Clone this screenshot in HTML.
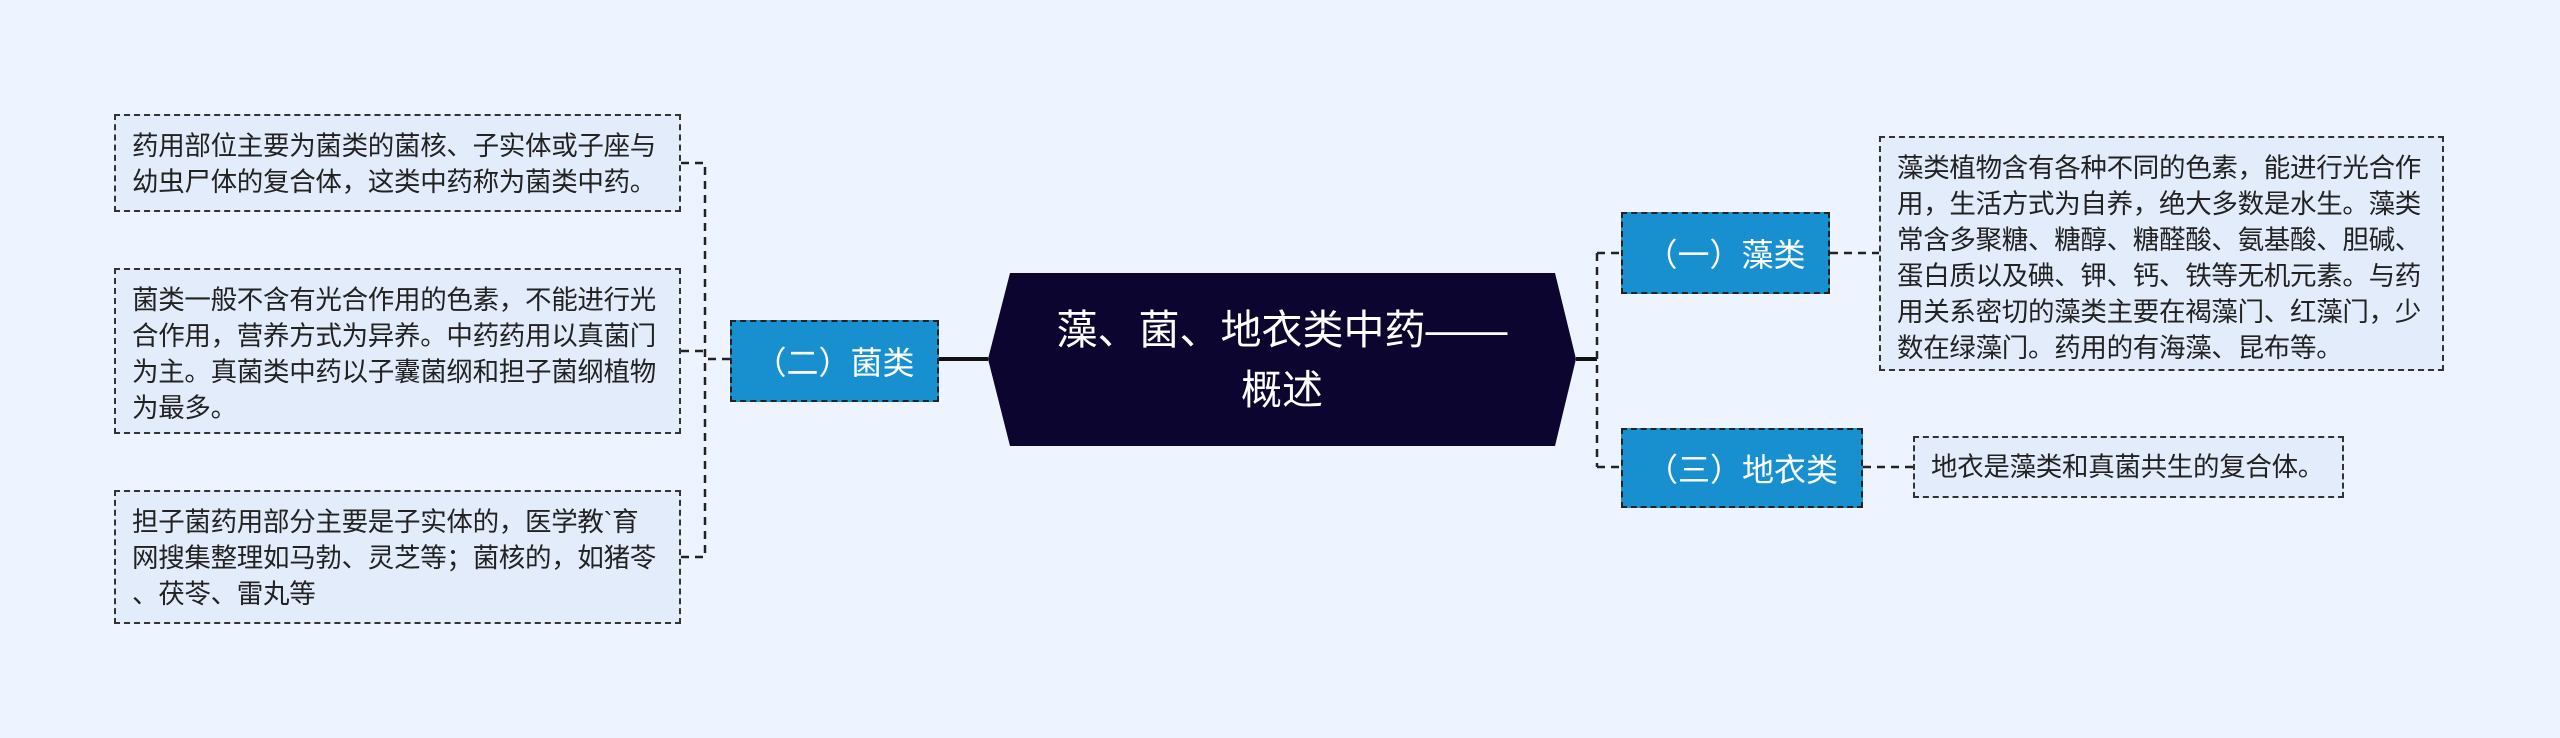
<!DOCTYPE html>
<html><head><meta charset="utf-8"><style>
body{margin:0;width:2560px;height:738px;background:#eef4ff;position:relative;overflow:hidden;font-family:"Liberation Sans","Noto Sans CJK SC",sans-serif;}
.leaf{position:absolute;box-sizing:border-box;border:2px dashed #333;background:#e3ecfb;color:#222;font-size:26.5px;line-height:36px;padding:12px 14px 10px 16px;letter-spacing:-0.3px;}
.sub{position:absolute;box-sizing:border-box;border:2px dashed #222;background:#1890d0;color:#fff;font-size:32px;display:flex;align-items:center;justify-content:center;}
svg{position:absolute;left:0;top:0}
.c{position:absolute;left:988px;top:273px;width:588px;height:173px;display:flex;align-items:center;justify-content:center;text-align:center;color:#fff;font-size:41px;line-height:60px;}
</style></head><body>
<svg width="2560" height="738">
<polygon points="1010,273 1555,273 1576,359 1555,446 1010,446 988,359" fill="#0b0530"/>
<g stroke="#111" stroke-width="4" fill="none">
<line x1="939" y1="359" x2="988" y2="359"/>
<line x1="1576" y1="359" x2="1597" y2="359"/>
</g>
<g stroke="#222" stroke-width="2.5" fill="none" stroke-dasharray="8,6">
<path d="M730 359 H705 M681 163 H705 V557 H681 M681 351 H705"/>
<path d="M1597 253 V467 M1597 253 H1621 M1597 467 H1621"/>
<path d="M1830 253 H1879 M1863 467 H1913"/>
</g>
</svg>
<div class="c">藻、菌、地衣类中药——<br>概述</div>
<div class="leaf" style="left:114px;top:114px;width:567px;height:98px;">药用部位主要为菌类的菌核、子实体或子座与幼虫尸体的复合体，这类中药称为菌类中药。</div>
<div class="leaf" style="left:114px;top:268px;width:567px;height:166px;">菌类一般不含有光合作用的色素，不能进行光合作用，营养方式为异养。中药药用以真菌门为主。真菌类中药以子囊菌纲和担子菌纲植物为最多。</div>
<div class="leaf" style="left:114px;top:490px;width:567px;height:134px;white-space:nowrap;">担子菌药用部分主要是子实体的，医学教`育<br>网搜集整理如马勃、灵芝等；菌核的，如猪苓<br>、茯苓、雷丸等</div>
<div class="sub" style="left:730px;top:320px;width:209px;height:82px;">（二）菌类</div>
<div class="sub" style="left:1621px;top:212px;width:209px;height:82px;">（一）藻类</div>
<div class="sub" style="left:1621px;top:428px;width:242px;height:80px;">（三）地衣类</div>
<div class="leaf" style="left:1879px;top:136px;width:565px;height:235px;">藻类植物含有各种不同的色素，能进行光合作用，生活方式为自养，绝大多数是水生。藻类常含多聚糖、糖醇、糖醛酸、氨基酸、胆碱、蛋白质以及碘、钾、钙、铁等无机元素。与药用关系密切的藻类主要在褐藻门、红藻门，少数在绿藻门。药用的有海藻、昆布等。</div>
<div class="leaf" style="left:1913px;top:436px;width:431px;height:62px;padding-top:11px;">地衣是藻类和真菌共生的复合体。</div>
</body></html>
